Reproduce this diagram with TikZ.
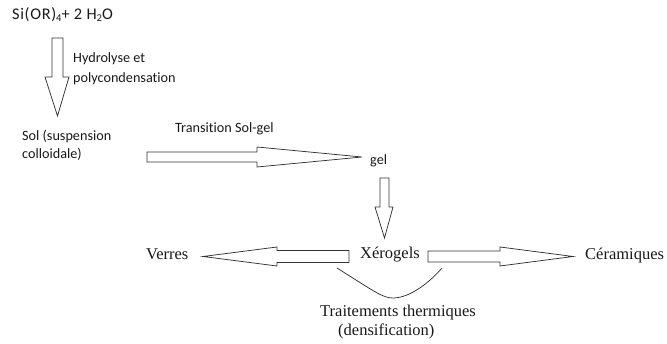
\documentclass[tikz,border=0pt]{standalone}
\usepackage{fontspec}
\setmainfont{Liberation Serif}
\newfontfamily\calib[Ligatures={NoCommon,NoRare,NoContextual}]{Carlito}
\newcommand\lowsub[1]{\raisebox{-1.2pt}{\fontsize{10.5}{11}\selectfont #1}}
\begin{document}
\begin{tikzpicture}[x=1pt,y=-1pt,
  sanslbl/.style={inner sep=0pt,anchor=base west,font=\calib\fontsize{14.2}{17}\selectfont,text=black!90},
  seriflbl/.style={inner sep=0pt,anchor=base west,font=\fontsize{16.5}{19}\selectfont,text=black!90},
  blockarrow/.style={draw=black!80,line width=0.75pt,fill=white,line join=miter}]
\useasboundingbox (0,0) rectangle (667,344);
% texts
\node[sanslbl,font=\calib\fontsize{16.3}{18}\selectfont\addfontfeatures{LetterSpace=4}] (si) at (12,20) {Si(OR)\lowsub{4}+ 2 H\lowsub{2}O};
\node[sanslbl] (hyd1) at (73,63) {Hydrolyse et};
\node[sanslbl] (hyd2) at (73,83) {polycondensation};
\node[sanslbl] (sol1) at (22,141) {Sol (suspension};
\node[sanslbl] (sol2) at (22,159) {colloidale)};
\node[sanslbl] (trans) at (175,133) {Transition Sol-gel};
\node[sanslbl] (gel) at (370,165) {gel};
\node[seriflbl] (xero) at (360,259) {Xérogels};
\node[seriflbl] (verres) at (146,260) {Verres};
\node[seriflbl] (ceram) at (585,260) {Céramiques};
\node[seriflbl] (trait) at (320,317) {Traitements thermiques};
\node[seriflbl] (dens) at (338,336) {(densification)};
% block arrows
\draw[blockarrow] (52,38) -- (63,38) -- (63,77) -- (69,77) -- (57.5,116) -- (45,77) -- (52,77) -- cycle;
\draw[blockarrow] (147,152) -- (257,152) -- (257,147) -- (362,157) -- (257,167) -- (257,162) -- (147,162) -- cycle;
\draw[blockarrow] (380,178) -- (389,178) -- (389,207) -- (393,207) -- (384.5,238) -- (375,207) -- (380,207) -- cycle;
\draw[blockarrow] (349,250.5) -- (277,250.5) -- (277,247) -- (203,256.5) -- (277,266) -- (277,262.5) -- (349,262.5) -- cycle;
\draw[blockarrow] (428,251) -- (500,251) -- (500,247) -- (573,256.5) -- (500,266) -- (500,262) -- (428,262) -- cycle;
% curve
\draw[black!80,line width=0.75pt] (337,268) .. controls (375,292) and (383,298) .. (393,298) .. controls (410,298) and (430,282) .. (442,268);
\end{tikzpicture}
\end{document}
